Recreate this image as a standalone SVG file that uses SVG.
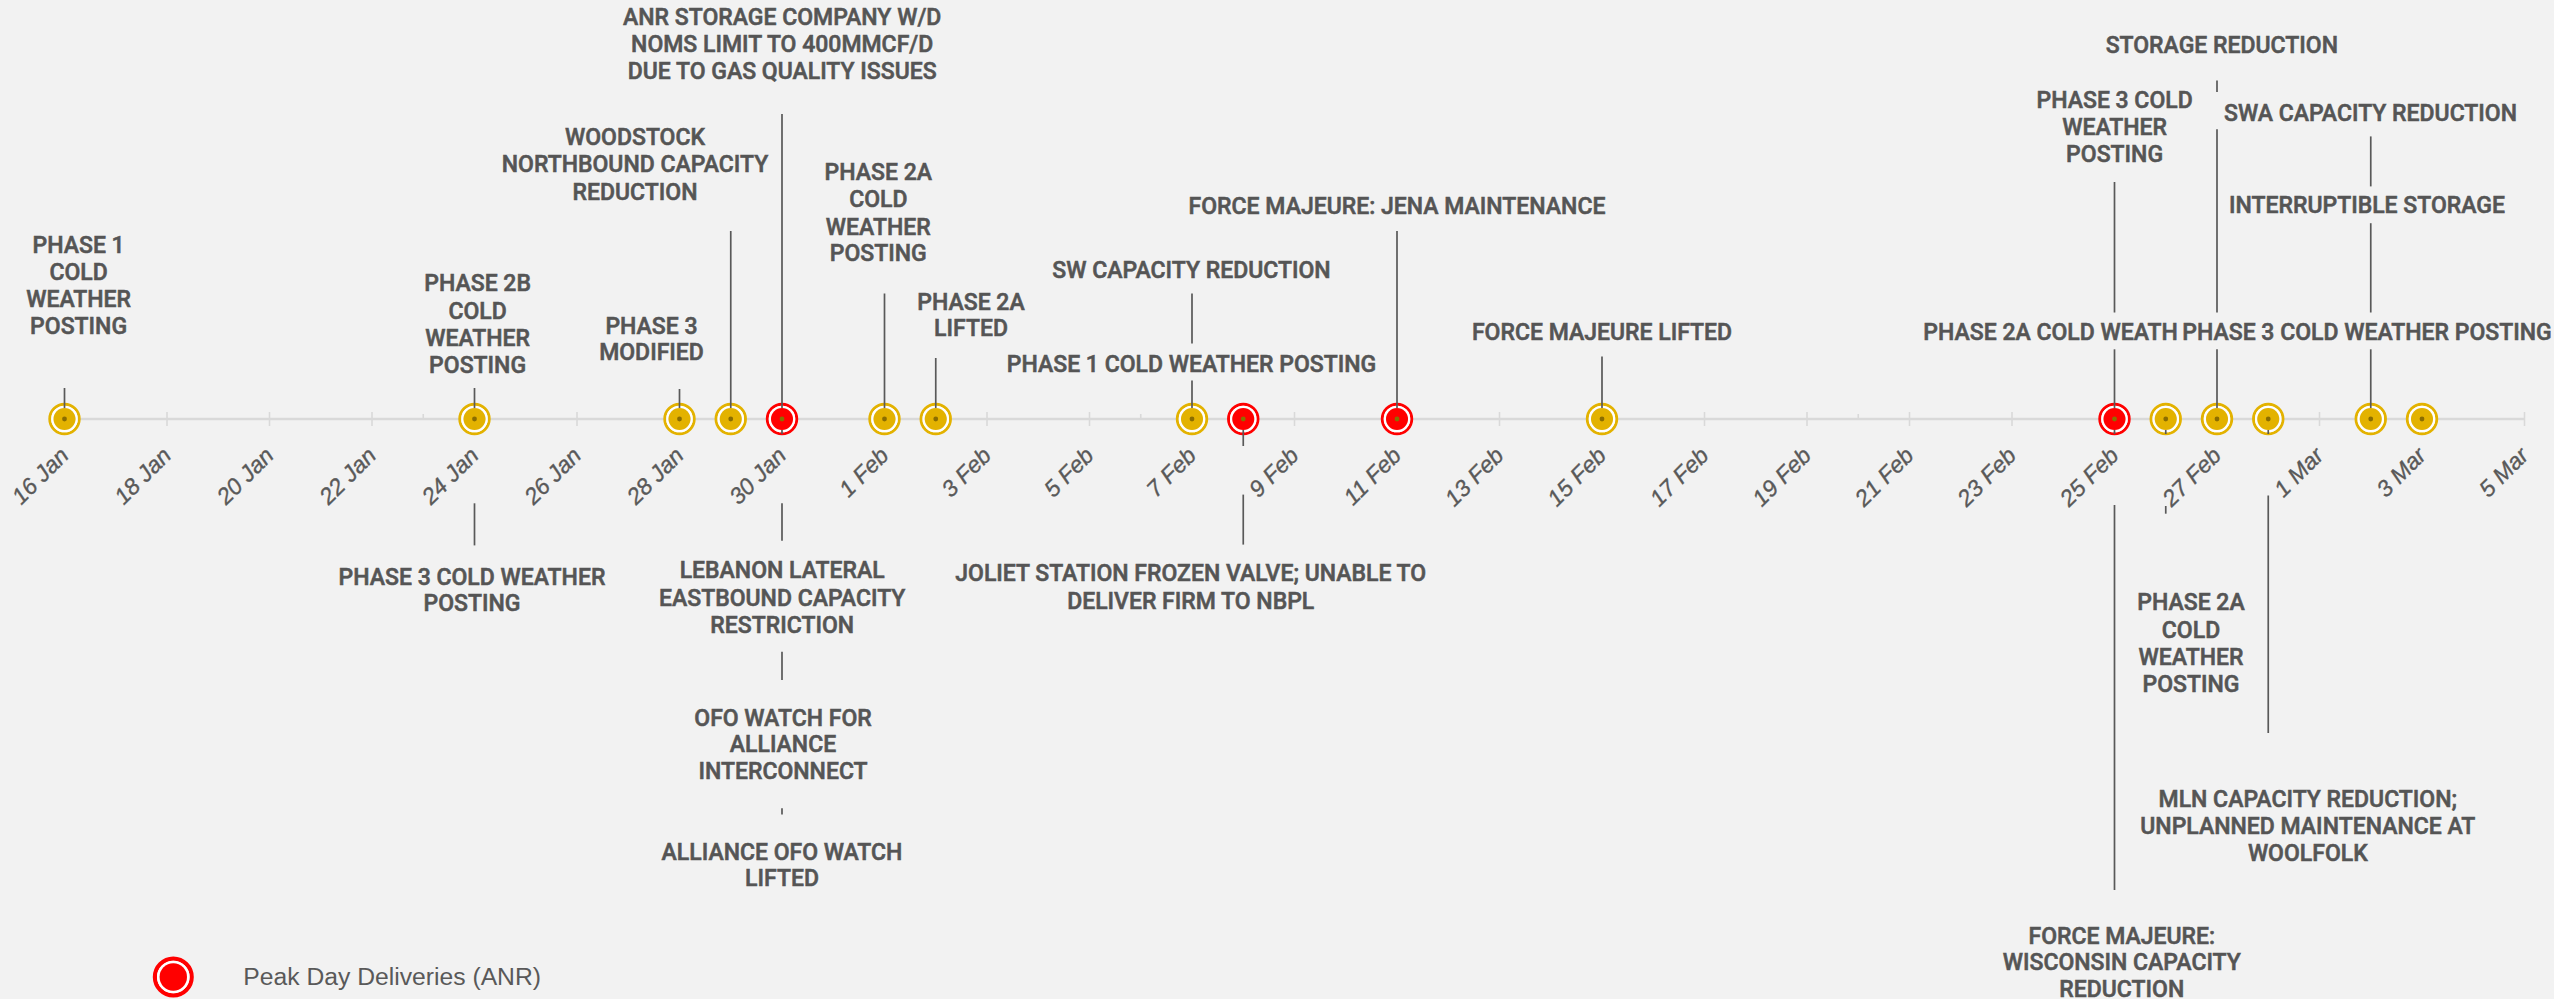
<svg xmlns="http://www.w3.org/2000/svg" width="2554" height="999" viewBox="0 0 2554 999">
<style>
.lbl{font-family:Roboto,"Liberation Sans",sans-serif;font-size:23px;font-weight:500;fill:#555;stroke:#555;stroke-width:0.55px;text-anchor:middle}
.tk{font-family:"Liberation Sans",Arial,sans-serif;font-size:23px;font-style:italic;fill:#595959;stroke:#595959;stroke-width:0.35px;text-anchor:end}
.leg{font-family:"Liberation Sans",Arial,sans-serif;font-size:24.7px;fill:#595959}
.ax{stroke:#d9d9d9;stroke-width:2.5}
.mt{stroke:#d9d9d9;stroke-width:1.6}
.cn line{stroke:#595959;stroke-width:1.7}
</style>
<defs>
<g id="mg"><circle r="14.75" fill="none" stroke="#e3b200" stroke-width="2.9"/><circle r="12.15" fill="none" stroke="#fff" stroke-width="2.3"/><circle r="11" fill="#e3b200"/><circle r="2.4" fill="#8a6d00"/></g>
<g id="mr"><circle r="14.75" fill="none" stroke="#ff0000" stroke-width="2.9"/><circle r="12.15" fill="none" stroke="#fff" stroke-width="2.3"/><circle r="11" fill="#ff0000"/><circle r="2.4" fill="#8a7000"/></g>
</defs>
<rect width="2554" height="999" fill="#f2f2f2"/>
<g id="axis">
<line class="ax" x1="64.5" y1="419" x2="2524.5" y2="419"/>
<path class="mt" d="M64.5 412V426M167 412V426M269.5 412V426M372 412V426M474.5 412V426M577 412V426M679.5 412V426M782 412V426M884.5 412V426M987 412V426M1089.5 412V426M1192 412V426M1294.5 412V426M1397 412V426M1499.5 412V426M1602 412V426M1704.5 412V426M1807 412V426M1909.5 412V426M2012 412V426M2114.5 412V426M2217 412V426M2319.5 412V426M2422 412V426M2524.5 412V426M423.25 414V419M1140.75 414V419M1858.25 414V419"/>
<g id="tick-labels">
<text class="tk" transform="translate(70,457) rotate(-45)">16 Jan</text>
<text class="tk" transform="translate(172.5,457) rotate(-45)">18 Jan</text>
<text class="tk" transform="translate(275,457) rotate(-45)">20 Jan</text>
<text class="tk" transform="translate(377.5,457) rotate(-45)">22 Jan</text>
<text class="tk" transform="translate(480,457) rotate(-45)">24 Jan</text>
<text class="tk" transform="translate(582.5,457) rotate(-45)">26 Jan</text>
<text class="tk" transform="translate(685,457) rotate(-45)">28 Jan</text>
<text class="tk" transform="translate(787.5,457) rotate(-45)">30 Jan</text>
<text class="tk" transform="translate(890,457) rotate(-45)">1 Feb</text>
<text class="tk" transform="translate(992.5,457) rotate(-45)">3 Feb</text>
<text class="tk" transform="translate(1095,457) rotate(-45)">5 Feb</text>
<text class="tk" transform="translate(1197.5,457) rotate(-45)">7 Feb</text>
<text class="tk" transform="translate(1300,457) rotate(-45)">9 Feb</text>
<text class="tk" transform="translate(1402.5,457) rotate(-45)">11 Feb</text>
<text class="tk" transform="translate(1505,457) rotate(-45)">13 Feb</text>
<text class="tk" transform="translate(1607.5,457) rotate(-45)">15 Feb</text>
<text class="tk" transform="translate(1710,457) rotate(-45)">17 Feb</text>
<text class="tk" transform="translate(1812.5,457) rotate(-45)">19 Feb</text>
<text class="tk" transform="translate(1915,457) rotate(-45)">21 Feb</text>
<text class="tk" transform="translate(2017.5,457) rotate(-45)">23 Feb</text>
<text class="tk" transform="translate(2120,457) rotate(-45)">25 Feb</text>
<text class="tk" transform="translate(2222.5,457) rotate(-45)">27 Feb</text>
<text class="tk" transform="translate(2325,457) rotate(-45)">1 Mar</text>
<text class="tk" transform="translate(2427.5,457) rotate(-45)">3 Mar</text>
<text class="tk" transform="translate(2530,457) rotate(-45)">5 Mar</text>
</g>
</g>
<g id="m-16jan"><use href="#mg" x="64.5" y="419"/></g>
<g id="m-24jan"><use href="#mg" x="474.5" y="419"/></g>
<g id="m-28jan"><use href="#mg" x="679.5" y="419"/></g>
<g id="m-29jan"><use href="#mg" x="730.75" y="419"/></g>
<g id="m-30jan"><use href="#mr" x="782" y="419"/></g>
<g id="m-1feb"><use href="#mg" x="884.5" y="419"/></g>
<g id="m-2feb"><use href="#mg" x="935.75" y="419"/></g>
<g id="m-7feb"><use href="#mg" x="1192" y="419"/></g>
<g id="m-8feb"><use href="#mr" x="1243.25" y="419"/></g>
<g id="m-11feb"><use href="#mr" x="1397" y="419"/></g>
<g id="m-15feb"><use href="#mg" x="1602" y="419"/></g>
<g id="m-25feb"><use href="#mr" x="2114.5" y="419"/></g>
<g id="m-26feb"><use href="#mg" x="2165.75" y="419"/></g>
<g id="m-27feb"><use href="#mg" x="2217" y="419"/></g>
<g id="m-28feb"><use href="#mg" x="2268.25" y="419"/></g>
<g id="m-2mar"><use href="#mg" x="2370.75" y="419"/></g>
<g id="m-3mar"><use href="#mg" x="2422" y="419"/></g>
<g id="connectors" class="cn">
<line x1="64.5" y1="388" x2="64.5" y2="408"/>
<line x1="474.5" y1="388" x2="474.5" y2="408"/>
<line x1="679.5" y1="389" x2="679.5" y2="408"/>
<line x1="730.75" y1="231" x2="730.75" y2="408"/>
<line x1="782" y1="114" x2="782" y2="408"/>
<line x1="884.5" y1="293.5" x2="884.5" y2="408"/>
<line x1="935.75" y1="358" x2="935.75" y2="408"/>
<line x1="1192" y1="293.6" x2="1192" y2="343.6"/>
<line x1="1192" y1="380.4" x2="1192" y2="408"/>
<line x1="1397" y1="231" x2="1397" y2="408"/>
<line x1="1602" y1="356.4" x2="1602" y2="408"/>
<line x1="2114.5" y1="182" x2="2114.5" y2="312.5"/>
<line x1="2114.5" y1="349.3" x2="2114.5" y2="408"/>
<line x1="2217" y1="80.4" x2="2217" y2="92"/>
<line x1="2217" y1="129.3" x2="2217" y2="312.5"/>
<line x1="2217" y1="349.3" x2="2217" y2="408"/>
<line x1="2370.75" y1="136.4" x2="2370.75" y2="186.4"/>
<line x1="2370.75" y1="223.2" x2="2370.75" y2="312.5"/>
<line x1="2370.75" y1="349.3" x2="2370.75" y2="408"/>
<line x1="474.5" y1="503.3" x2="474.5" y2="545.4"/>
<line x1="782" y1="430" x2="782" y2="434"/>
<line x1="782" y1="503.3" x2="782" y2="540.8"/>
<line x1="782" y1="651.8" x2="782" y2="680.1"/>
<line x1="782" y1="808.3" x2="782" y2="814.5"/>
<line x1="1243.25" y1="430" x2="1243.25" y2="446"/>
<line x1="1243.25" y1="494.6" x2="1243.25" y2="544.6"/>
<line x1="2114.5" y1="430" x2="2114.5" y2="434"/>
<line x1="2114.5" y1="505" x2="2114.5" y2="890"/>
<line x1="2165.75" y1="430" x2="2165.75" y2="434"/>
<line x1="2165.75" y1="506" x2="2165.75" y2="513.7"/>
<line x1="2268.25" y1="430" x2="2268.25" y2="434"/>
<line x1="2268.25" y1="495.5" x2="2268.25" y2="733"/>
</g>
<g id="lbl-phase1-16jan"><text class="lbl"><tspan x="78.6" y="252.5">PHASE 1</tspan><tspan x="78.6" y="279.8">COLD</tspan><tspan x="78.6" y="307.1">WEATHER</tspan><tspan x="78.6" y="334.4">POSTING</tspan></text></g>
<g id="lbl-phase2b-24jan"><text class="lbl"><tspan x="477.6" y="291.3">PHASE 2B</tspan><tspan x="477.6" y="318.8">COLD</tspan><tspan x="477.6" y="346.3">WEATHER</tspan><tspan x="477.6" y="373">POSTING</tspan></text></g>
<g id="lbl-phase3mod-28jan"><text class="lbl"><tspan x="651.5" y="333.7">PHASE 3</tspan><tspan x="651.5" y="360.3">MODIFIED</tspan></text></g>
<g id="lbl-woodstock-29jan"><text class="lbl"><tspan x="635" y="144.7">WOODSTOCK</tspan><tspan x="635" y="172.3">NORTHBOUND CAPACITY</tspan><tspan x="635" y="199.7">REDUCTION</tspan></text></g>
<g id="lbl-anr-30jan"><text class="lbl"><tspan x="782.2" y="25.3">ANR STORAGE COMPANY W/D</tspan><tspan x="782.2" y="52">NOMS LIMIT TO 400MMCF/D</tspan><tspan x="782.2" y="79">DUE TO GAS QUALITY ISSUES</tspan></text></g>
<g id="lbl-phase2a-1feb"><text class="lbl"><tspan x="878.3" y="179.7">PHASE 2A</tspan><tspan x="878.3" y="207">COLD</tspan><tspan x="878.3" y="234.7">WEATHER</tspan><tspan x="878.3" y="261.3">POSTING</tspan></text></g>
<g id="lbl-phase2alifted-2feb"><text class="lbl"><tspan x="971" y="309.8">PHASE 2A</tspan><tspan x="971" y="335.9">LIFTED</tspan></text></g>
<g id="lbl-sw-7feb"><text class="lbl" x="1191.5" y="277.6">SW CAPACITY REDUCTION</text></g>
<g id="lbl-phase1-7feb"><text class="lbl" x="1191.5" y="371.6">PHASE 1 COLD WEATHER POSTING</text></g>
<g id="lbl-jena-11feb"><text class="lbl" x="1397" y="214.4">FORCE MAJEURE: JENA MAINTENANCE</text></g>
<g id="lbl-fmlifted-15feb"><text class="lbl" x="1602" y="340">FORCE MAJEURE LIFTED</text></g>
<g id="lbl-storage-27feb"><text class="lbl" x="2221.8" y="52.6">STORAGE REDUCTION</text></g>
<g id="lbl-phase3-25feb"><text class="lbl"><tspan x="2114.6" y="108">PHASE 3 COLD</tspan><tspan x="2114.6" y="134.8">WEATHER</tspan><tspan x="2114.6" y="161.6">POSTING</tspan></text></g>
<g id="lbl-swa-2mar"><text class="lbl" x="2370.5" y="120.5">SWA CAPACITY REDUCTION</text></g>
<g id="lbl-interruptible-2mar"><text class="lbl" x="2367" y="213.4">INTERRUPTIBLE STORAGE</text></g>
<g id="lbl-phase2a-trunc"><text class="lbl" x="1923.3" y="340.3" style="text-anchor:start">PHASE 2A COLD WEATH</text></g>
<g id="lbl-phase3-2mar"><text class="lbl" x="2367" y="340.3">PHASE 3 COLD WEATHER POSTING</text></g>
<g id="lbl-phase3-24jan"><text class="lbl"><tspan x="472" y="584.8">PHASE 3 COLD WEATHER</tspan><tspan x="472" y="610.8">POSTING</tspan></text></g>
<g id="lbl-lebanon-30jan"><text class="lbl"><tspan x="782.2" y="578.3">LEBANON LATERAL</tspan><tspan x="782.2" y="605.5">EASTBOUND CAPACITY</tspan><tspan x="782.2" y="632.6">RESTRICTION</tspan></text></g>
<g id="lbl-ofo-30jan"><text class="lbl"><tspan x="783" y="725.6">OFO WATCH FOR</tspan><tspan x="783" y="752.4">ALLIANCE</tspan><tspan x="783" y="779.2">INTERCONNECT</tspan></text></g>
<g id="lbl-ofolifted-30jan"><text class="lbl"><tspan x="782" y="860.3">ALLIANCE OFO WATCH</tspan><tspan x="782" y="886.4">LIFTED</tspan></text></g>
<g id="lbl-joliet-8feb"><text class="lbl"><tspan x="1190.7" y="581">JOLIET STATION FROZEN VALVE; UNABLE TO</tspan><tspan x="1190.7" y="608.5">DELIVER FIRM TO NBPL</tspan></text></g>
<g id="lbl-phase2a-26feb"><text class="lbl"><tspan x="2191" y="610.3">PHASE 2A</tspan><tspan x="2191" y="638.3">COLD</tspan><tspan x="2191" y="665.3">WEATHER</tspan><tspan x="2191" y="692">POSTING</tspan></text></g>
<g id="lbl-mln-28feb"><text class="lbl"><tspan x="2307.8" y="807.4">MLN CAPACITY REDUCTION;</tspan><tspan x="2307.8" y="834.4">UNPLANNED MAINTENANCE AT</tspan><tspan x="2307.8" y="860.6">WOOLFOLK</tspan></text></g>
<g id="lbl-wisconsin-25feb"><text class="lbl"><tspan x="2121.8" y="944">FORCE MAJEURE:</tspan><tspan x="2121.8" y="970.2">WISCONSIN CAPACITY</tspan><tspan x="2121.8" y="996.5">REDUCTION</tspan></text></g>
<g id="legend">
<circle cx="173.3" cy="977" r="18.4" fill="none" stroke="#ff0000" stroke-width="4.2"/>
<circle cx="173.3" cy="977" r="15" fill="none" stroke="#fff" stroke-width="2.6"/>
<circle cx="173.3" cy="977" r="13.7" fill="#ff0000"/>
<text class="leg" x="243.3" y="985">Peak Day Deliveries (ANR)</text>
</g>
</svg>
